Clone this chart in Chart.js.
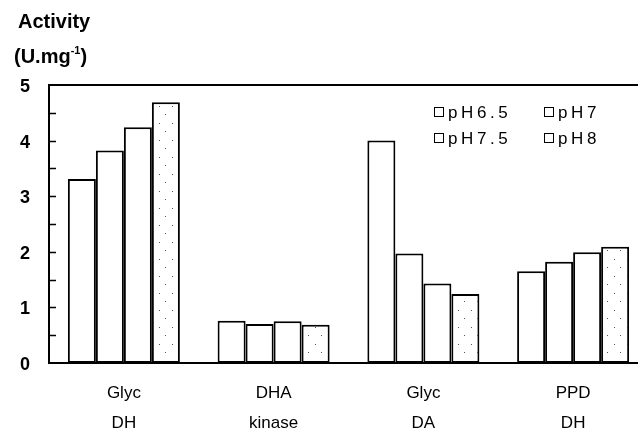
<!DOCTYPE html>
<html>
<head>
<meta charset="utf-8">
<script src="https://cdn.jsdelivr.net/npm/chart.js@4"></script>
<style>
  html, body { margin:0; padding:0; background:#fff; overflow:hidden; width:638px; height:431px; }
  #wrap { position:absolute; left:0; top:0; width:648px; height:431px; }
  .t { position:absolute; font-family:"Liberation Sans", Arial, sans-serif; color:#000; white-space:nowrap; }
  .ttl { font-weight:bold; font-size:20px; }
  .ttl sup { font-size:11px; position:relative; top:-1px; }
  .leg { font-size:17px; letter-spacing:3.6px; line-height:17px; }
  .box { position:absolute; width:8px; height:8px; border:1.6px solid #000; background:#fff; }
</style>
</head>
<body>
<div id="wrap"><canvas id="c"></canvas></div>
<div class="t ttl" style="left:18px; top:10px;">Activity</div>
<div class="t ttl" style="left:14px; top:45px;">(U.mg<sup>-1</sup>)</div>

<div class="box" style="left:434px; top:107px;"></div>
<div class="t leg" style="left:448px; top:104px;">pH6.5</div>
<div class="box" style="left:544px; top:107px;"></div>
<div class="t leg" style="left:558px; top:104px;">pH7</div>
<div class="box" style="left:434px; top:133px;"></div>
<div class="t leg" style="left:448px; top:130px;">pH7.5</div>
<div class="box" style="left:544px; top:133px;"></div>
<div class="t leg" style="left:558px; top:130px;">pH8</div>

<script>
const categories = [["Glyc","DH"],["DHA","kinase"],["Glyc","DA"],["PPD","DH"]];
const seriesNames = ["pH6.5","pH7","pH7.5","pH8"];
const pH65 = [3.31, 0.76, 4.00, 1.65];
const pH7  = [3.82, 0.70, 1.97, 1.82];
const pH75 = [4.24, 0.75, 1.43, 1.99];
const pH8  = [4.69, 0.69, 1.24, 2.09];
const yTicks = [0, 1, 2, 3, 4, 5];

const FONT = '"Liberation Sans", Arial, sans-serif';

function dotPattern() {
  const c = document.createElement('canvas');
  c.width = 13; c.height = 17;
  const g = c.getContext('2d');
  g.fillStyle = '#fff'; g.fillRect(0,0,13,17);
  g.fillStyle = '#555';
  g.fillRect(3,4,1,1);
  g.fillRect(9,12,1,1);
  return g.createPattern(c, 'repeat');
}

const framePlugin = {
  id: 'frame',
  afterDatasetsDraw(chart) {
    const {ctx, chartArea:a, scales:{y}} = chart;
    ctx.save();
    ctx.strokeStyle = '#000';
    ctx.lineWidth = 2;
    ctx.beginPath();
    ctx.moveTo(a.right + 2, a.top);
    ctx.lineTo(a.left, a.top);
    ctx.lineTo(a.left, a.bottom);
    ctx.lineTo(a.right + 2, a.bottom);
    ctx.stroke();
    ctx.lineWidth = 1.5;
    ctx.beginPath();
    for (let v = 0.5; v < 5; v += 0.5) {
      const py = Math.round(y.getPixelForValue(v)) + 0.5;
      ctx.moveTo(a.left, py);
      ctx.lineTo(a.left + 7, py);
    }
    ctx.stroke();
    ctx.restore();
  }
};

const values = [pH65, pH7, pH75, pH8];
const datasets = values.map((d, i) => ({
  label: seriesNames[i],
  data: d,
  backgroundColor: i === 3 ? dotPattern() : '#fff',
  borderColor: '#000',
  borderWidth: 2,
  borderSkipped: false,
  barPercentage: 1,
  categoryPercentage: 0.748
}));

new Chart(document.getElementById('c'), {
  type: 'bar',
  data: { labels: categories, datasets },
  options: {
    responsive: true,
    maintainAspectRatio: false,
    animation: false,
    layout: { padding: { top: 85, left: 0, right: 0, bottom: 0 } },
    plugins: { legend: { display: false }, tooltip: { enabled: false } },
    scales: {
      x: {
        grid: { display: false },
        border: { display: false },
        ticks: {
          color: '#000',
          font: { family: FONT, size: 17, lineHeight: 1.72 },
          padding: 8,
          maxRotation: 0
        },
        afterFit(s) { s.height = 68; }
      },
      y: {
        min: 0, max: 5,
        grid: { display: false },
        border: { display: false },
        afterBuildTicks(s) { s.ticks = yTicks.map(v => ({ value: v })); },
        ticks: {
          color: '#000',
          font: { family: FONT, size: 18, weight: 'bold' },
          padding: 11,
          labelOffset: 2
        },
        afterFit(s) { s.width = 49; }
      }
    }
  },
  plugins: [framePlugin]
});
</script>
</body>
</html>
